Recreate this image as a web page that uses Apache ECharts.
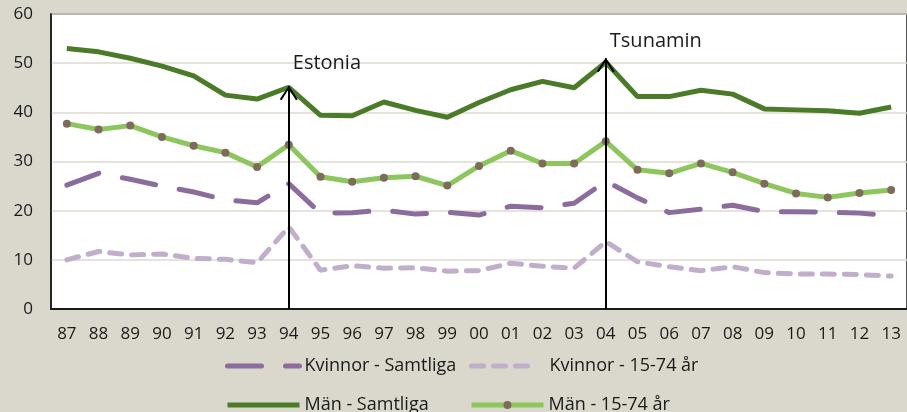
<!DOCTYPE html>
<html>
<head>
<meta charset="utf-8">
<script src="https://cdn.jsdelivr.net/npm/echarts@6/dist/echarts.min.js"></script>
<style>
  * { margin: 0; padding: 0; }
  body { background: #dad8cc; }
  #main { width: 907px; height: 412px; }
</style>
</head>
<body>
<div id="main"></div>
<script>
  // years 1987 - 2013
  var years = ['87','88','89','90','91','92','93','94','95','96','97','98','99','00',
               '01','02','03','04','05','06','07','08','09','10','11','12','13']
  var yTicks = [0, 60, 10]  // min, max, step

  var kvinnorSamtliga = [25.2,27.6,26.4,25.0,23.8,22.2,21.6,25.5,19.5,19.6,20.1,19.3,19.7,19.1,
                         20.9,20.6,21.5,26.0,22.6,19.6,20.3,21.1,19.8,19.8,19.7,19.5,19.0]
  var kvinnor1574 = [10.0,11.7,11.0,11.2,10.3,10.1,9.4,16.7,7.9,8.8,8.3,8.4,7.7,7.8,
                     9.3,8.7,8.3,13.7,9.6,8.6,7.8,8.6,7.4,7.1,7.1,7.0,6.7]
  var manSamtliga = [53.0,52.3,51.0,49.4,47.4,43.5,42.7,45.1,39.4,39.3,42.1,40.4,39.0,42.0,
                     44.6,46.3,45.0,50.2,43.2,43.2,44.5,43.7,40.7,40.5,40.3,39.8,41.1]
  var man1574 = [37.7,36.5,37.3,35.0,33.2,31.8,28.9,33.4,26.9,25.9,26.7,27.0,25.1,29.1,
                 32.2,29.6,29.6,34.1,28.3,27.6,29.6,27.8,25.5,23.5,22.7,23.6,24.2]

  // annotations: [year, arrow top, label]
  var events = [['94', 45.3, 'Estonia'], ['04', 51.0, 'Tsunamin']]

  var font = 'Open Sans'
  var chart = echarts.init(document.getElementById('main'))

  // open arrow head, tip placed at the symbol centre (tiny dot at top only widens the box)
  var arrowPath = 'path://M5,0 L5.02,0 L5,0.02 Z M0,20 L5,10 L10,20 L9,20.7 L5,12.3 L1,20.7 Z'

  var legendBase = {
    orient: 'horizontal',
    padding: 0,
    itemWidth: 72,
    itemHeight: 10,
    lineStyle: { width: 5 },
    textStyle: { fontFamily: font, fontSize: 18, color: '#1a1a1a' }
  }
  var noDot = { opacity: 0 }

  chart.setOption({
    backgroundColor: '#dad8cc',
    animation: false,
    grid: {
      left: 51, top: 14, width: 858, bottom: 103,
      show: true, backgroundColor: '#ffffff', borderColor: '#1a1a1a', borderWidth: 1.5
    },
    legend: [
      Object.assign({}, legendBase, { data: [{ name: 'Kvinnor - Samtliga', itemStyle: noDot }], left: 225, top: 357 }),
      Object.assign({}, legendBase, { data: [{ name: 'Kvinnor - 15-74 år', itemStyle: noDot }], left: 469, top: 357,
        itemWidth: 63, textStyle: { fontFamily: font, fontSize: 18, color: '#1a1a1a', padding: [0, 0, 0, 10] } }),
      Object.assign({}, legendBase, { data: [{ name: 'Män - Samtliga', itemStyle: noDot }], left: 225, top: 396 }),
      Object.assign({}, legendBase, { data: ['Män - 15-74 år'], left: 469, top: 396 })
    ],
    xAxis: {
      type: 'category',
      data: years,
      boundaryGap: true,
      axisLine: { lineStyle: { color: '#1a1a1a', width: 2 } },
      axisTick: { inside: true, length: 6, lineStyle: { color: '#1a1a1a' } },
      axisLabel: { fontFamily: font, fontSize: 17, color: '#1a1a1a', margin: 17, interval: 0 },
      splitLine: { show: false }
    },
    yAxis: {
      type: 'value',
      min: yTicks[0], max: yTicks[1], interval: yTicks[2],
      axisLine: { show: true, lineStyle: { color: '#1a1a1a', width: 1.5 } },
      axisTick: { show: false },
      axisLabel: { fontFamily: font, fontSize: 17, color: '#1a1a1a', margin: 18 },
      splitLine: { lineStyle: { color: '#dcdad0', width: 1.5 } }
    },
    series: [
      {
        name: 'Kvinnor - Samtliga', type: 'line', data: kvinnorSamtliga,
        symbol: 'none', z: 3,
        lineStyle: { color: '#8b6c9d', width: 5, type: [34, 24], cap: 'round' },
        itemStyle: { color: '#8b6c9d' }
      },
      {
        name: 'Kvinnor - 15-74 år', type: 'line', data: kvinnor1574,
        symbol: 'none', z: 3,
        lineStyle: { color: '#c0aecb', width: 5, type: [12, 10], cap: 'round' },
        itemStyle: { color: '#c0aecb' }
      },
      {
        name: 'Män - Samtliga', type: 'line', data: manSamtliga,
        symbol: 'none', z: 3,
        lineStyle: { color: '#4b7a29', width: 5 },
        itemStyle: { color: '#4b7a29' }
      },
      {
        name: 'Män - 15-74 år', type: 'line', data: man1574,
        symbol: 'circle', symbolSize: 8, z: 3,
        lineStyle: { color: '#8cc65d', width: 5 },
        itemStyle: { color: '#7f6b5c' },
        markLine: {
          silent: true, z: 5,
          lineStyle: { color: '#000000', width: 2, type: 'solid' },
          label: { show: false },
          symbol: ['none', arrowPath],
          symbolSize: [18, 28],
          data: events.map(function (e) {
            return [{ coord: [e[0], 0] }, { coord: [e[0], e[1]] }]
          })
        },
        markPoint: {
          silent: true, symbol: 'circle', symbolSize: 0,
          label: {
            show: true, position: 'right', distance: 4,
            fontFamily: font, fontSize: 20, color: '#1a1a1a',
            formatter: function (p) { return p.name }
          },
          data: [
            { name: events[0][2], coord: [events[0][0], 50.0] },
            { name: events[1][2], coord: [events[1][0], 54.5] }
          ]
        }
      }
    ]
  })
</script>
</body>
</html>
